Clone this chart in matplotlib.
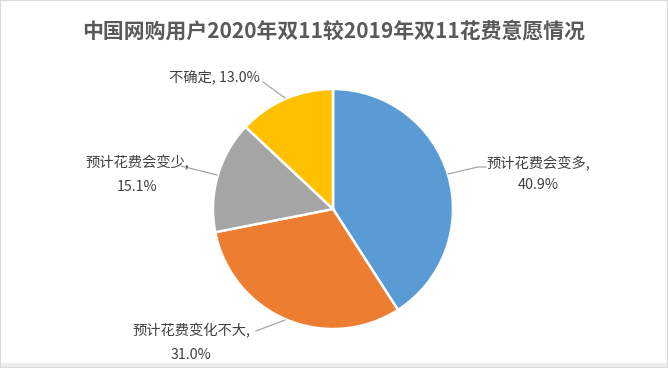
import matplotlib
matplotlib.use("Agg")
import matplotlib.pyplot as plt
from matplotlib.patches import Rectangle

plt.rcParams['font.family'] = ['Noto Sans CJK SC', 'DejaVu Sans']

title = "中国网购用户2020年双11较2019年双11花费意愿情况"
categories = ["预计花费会变多", "预计花费变化不大", "预计花费会变少", "不确定"]
values = [40.9, 31.0, 15.1, 13.0]
colors = ["#5B9BD5", "#ED7D31", "#A5A5A5", "#FFC000"]

W, H = 668, 368
fig = plt.figure(figsize=(W / 100, H / 100), dpi=100)
ax = fig.add_axes([0, 0, 1, 1])

cx, cy, r = 333, H - 209, 120
wedges, _ = ax.pie(values, colors=colors, startangle=90, counterclock=False,
                   center=(cx, cy), radius=r, frame=True,
                   wedgeprops=dict(edgecolor='white', linewidth=1.8))
ax.set_xlim(0, W)
ax.set_ylim(0, H)
ax.set_aspect('equal')
ax.axis('off')

fig.text(0.5, 1 - 31 / H, title, ha='center', va='center', fontsize=15,
         fontweight='bold', color='#595959')

lab_col = '#404040'
line_col = '#A6A6A6'
fs = 10.3

def lab(i):
    return f"{categories[i]},", f"{values[i]:.1f}%"

# 40.9%
a, b = lab(0)
ax.plot([448, 478, 486], [H - 174, H - 167, H - 167], color=line_col, lw=0.9)
ax.text(538, H - 164, a, ha='center', va='center', fontsize=fs, color=lab_col)
ax.text(538, H - 185, b, ha='center', va='center', fontsize=fs, color=lab_col)

# 31.0%
a, b = lab(1)
ax.plot([285, 256], [H - 320, H - 331], color=line_col, lw=0.9)
ax.text(191, H - 331, a, ha='center', va='center', fontsize=fs, color=lab_col)
ax.text(191, H - 355, b, ha='center', va='center', fontsize=fs, color=lab_col)

# 15.1%
a, b = lab(2)
ax.plot([217, 181], [H - 175, H - 166], color=line_col, lw=0.9)
ax.text(137, H - 163, a, ha='center', va='center', fontsize=fs, color=lab_col)
ax.text(137, H - 187, b, ha='center', va='center', fontsize=fs, color=lab_col)

# 13.0%
ax.plot([285, 263], [H - 98, H - 82], color=line_col, lw=0.9)
ax.text(214, H - 78, f"{categories[3]}, {values[3]:.1f}%", ha='center', va='center',
        fontsize=fs, color=lab_col)

fig.patches.append(Rectangle((0, 0), 1, 5 / H, transform=fig.transFigure,
                             facecolor='#EDEDED', edgecolor='none'))
fig.patches.append(Rectangle((0, 0), 1, 1, transform=fig.transFigure, fill=False,
                             edgecolor='#D9D9D9', linewidth=1.5))

fig.savefig("out.png", dpi=100, facecolor='white')
